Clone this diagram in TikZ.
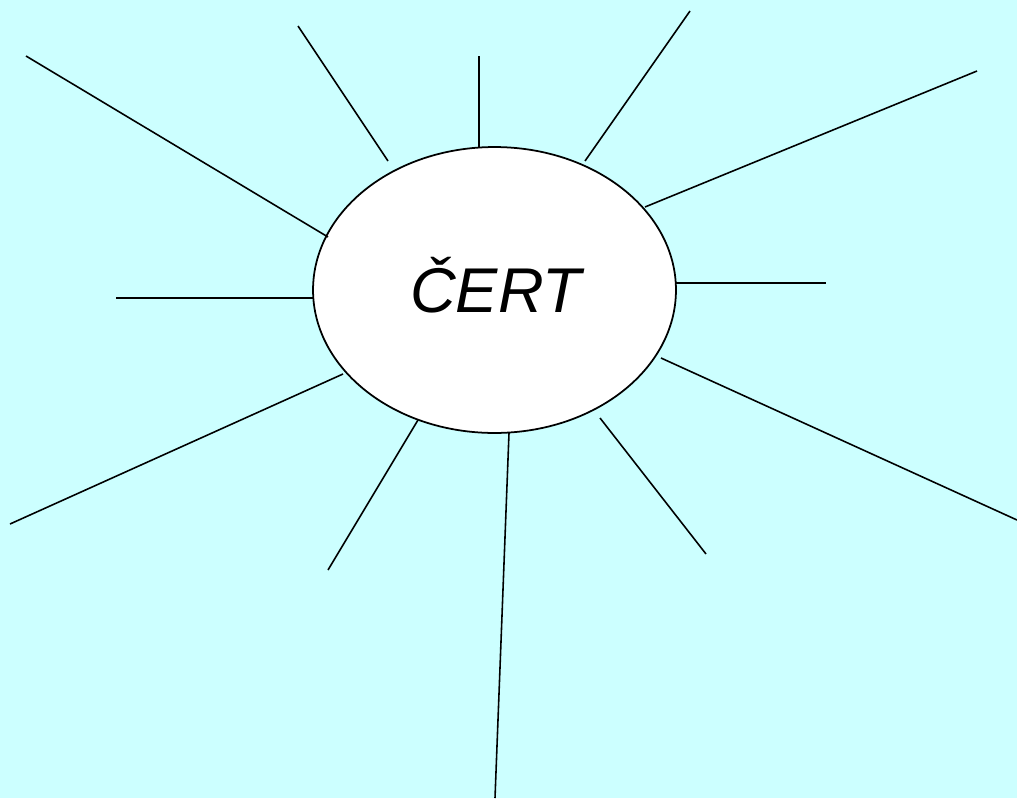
\documentclass[tikz,border=0pt]{standalone}
\usepackage{fontspec}
\setsansfont{Liberation Sans}
\usepackage{tikz}
\usetikzlibrary{shapes.geometric, positioning}
\definecolor{skycyan}{RGB}{204,255,255}
\definecolor{mydark}{RGB}{0,0,0}
\tikzset{
  sunbody/.style={ellipse, draw=mydark, fill=white, line width=1pt,
    minimum width=7.26cm, minimum height=5.72cm, inner sep=0pt,
    text height=0.9cm, text depth=0pt,
    font=\sffamily\itshape\fontsize{36}{42}\selectfont},
  ray/.style={line width=0.9pt, color=mydark}
}

\begin{document}
\begin{tikzpicture}[x=0.02cm, y=-0.02cm]
  % Background
  \fill[skycyan] (0,0) rectangle (1017,798);
  \useasboundingbox (0,0) rectangle (1017,798);

  % Centre
  \node[sunbody] (cert) at (494.5,290) {\hspace{0.05cm}ČERT};

  % Rays: inner end / outer end
  \foreach \i/\ax/\ay/\bx/\by in {
      1/328/237/26/56,     2/388/161/298/26,   3/479/147/479/56,
      4/585/161/690/11,    5/645/207/977/71,   6/676/283/826/283,
      7/661/358/1017/520,  8/600/418/706/554,  9/509/433/495/798,
      10/418/420/328/570,  11/343/374/10/524,  12/313/298/116/298}{
    \coordinate (in\i) at (\ax,\ay);
    \coordinate (out\i) at (\bx,\by);
    \draw[ray] (in\i) -- (out\i);
  }
\end{tikzpicture}
\end{document}
